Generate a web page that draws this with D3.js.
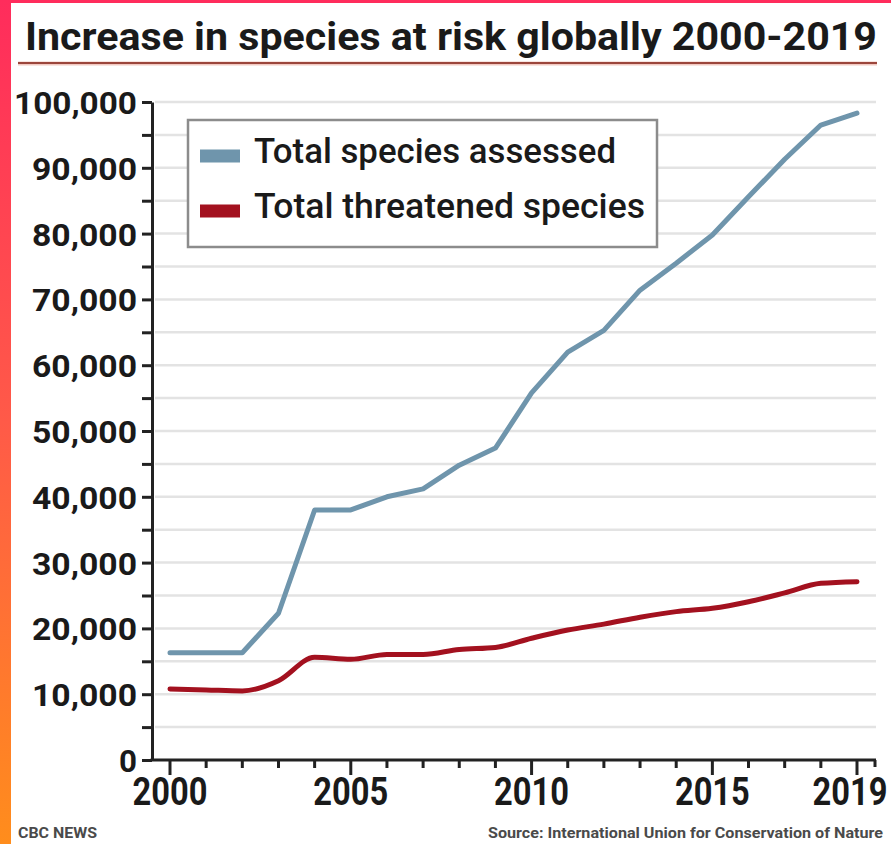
<!DOCTYPE html>
<html>
<head>
<meta charset="utf-8">
<script src="https://cdn.jsdelivr.net/npm/d3@7"></script>
<style>
  html, body { margin: 0; padding: 0; background: #fff; }
  svg { display: block; }
</style>
</head>
<body>
<svg id="chart" width="891" height="844"></svg>
<script>
// Years shown on the x axis
const years = d3.range(2000, 2020);

// IUCN Red List totals per year
const assessed = [16300, 16300, 16300, 22300, 38000, 38000, 40000, 41200, 44800, 47400,
                  55800, 62000, 65300, 71400, 75500, 79800, 85600, 91300, 96500, 98300];
const threatened = [10800, 10650, 10500, 12050, 15600, 15300, 16050, 16050, 16800, 17100,
                    18500, 19750, 20650, 21700, 22550, 23050, 24050, 25400, 26850, 27100];

const seriesNames = ["Total species assessed", "Total threatened species"];
const seriesColors = ["#6f95ac", "#a3111f"];

const xTickLabels = [2000, 2005, 2010, 2015, 2019];
const yTickLabels = d3.range(0, 100001, 10000);
const yMinorTicks = d3.range(0, 100001, 5000);

const titleText = "Increase in species at risk globally 2000-2019";
const creditText = "CBC NEWS";
const sourceText = "Source: International Union for Conservation of Nature";

const svg = d3.select("#chart");
const font = "Roboto, 'DejaVu Sans', sans-serif";

// Frame: gradient strip down the left edge and a thin strip along the top
const defs = svg.append("defs");
const grad = defs.append("linearGradient")
  .attr("id", "edge").attr("x1", 0).attr("y1", 0).attr("x2", 0).attr("y2", 1);
grad.append("stop").attr("offset", "0%").attr("stop-color", "#ff2c5c");
grad.append("stop").attr("offset", "50%").attr("stop-color", "#ff5a48");
grad.append("stop").attr("offset", "100%").attr("stop-color", "#ff8d1c");
svg.append("rect").attr("x", 0).attr("y", 0).attr("width", 891).attr("height", 3).attr("fill", "#ff2c5c");
svg.append("rect").attr("x", 0).attr("y", 0).attr("width", 11).attr("height", 844).attr("fill", "url(#edge)");

// Title with its rule underneath
svg.append("text")
  .attr("x", 25).attr("y", 50)
  .attr("font-family", font).attr("font-weight", 700).attr("font-size", 39)
  .attr("fill", "#1a1a1a")
  .attr("textLength", 852).attr("lengthAdjust", "spacingAndGlyphs")
  .text(titleText);
svg.append("line")
  .attr("x1", 18).attr("x2", 877).attr("y1", 63.5).attr("y2", 63.5)
  .attr("stroke", "#f2c9c2").attr("stroke-width", 4);
svg.append("line")
  .attr("x1", 18).attr("x2", 877).attr("y1", 63).attr("y2", 63)
  .attr("stroke", "#9c463c").attr("stroke-width", 2);

// Scales
const x = d3.scaleLinear().domain([2000, 2019]).range([170, 857]);
const y = d3.scaleLinear().domain([0, 100000]).range([760, 102]);

// Horizontal gridlines every 5,000
svg.append("g").selectAll("line")
  .data(yMinorTicks.filter(d => d > 0))
  .join("line")
  .attr("x1", 155).attr("x2", 876)
  .attr("y1", d => y(d)).attr("y2", d => y(d))
  .attr("stroke", "#e3e3e3").attr("stroke-width", 2.5);

// Y axis
const yAxis = d3.axisLeft(y)
  .tickValues(yMinorTicks)
  .tickSize(10).tickSizeOuter(0)
  .tickFormat("");
const gy = svg.append("g").attr("transform", "translate(152,0)").call(yAxis);
gy.select(".domain").attr("stroke", "#222").attr("stroke-width", 3);
gy.selectAll(".tick line").attr("stroke", "#222").attr("stroke-width", 3);

svg.append("g").selectAll("text")
  .data(yTickLabels)
  .join("text")
  .attr("x", 137).attr("y", d => y(d) + 12)
  .attr("text-anchor", "end")
  .attr("font-family", font).attr("font-weight", 700).attr("font-size", 32)
  .attr("fill", "#1a1a1a")
  .attr("textLength", d => {
    const s = d3.format(",")(d);
    const digits = s.replace(/,/g, "").length;
    return digits * 18 + (s.includes(",") ? 15 : 0);
  })
  .attr("lengthAdjust", "spacingAndGlyphs")
  .text(d => d3.format(",")(d));

// X axis
svg.append("line")
  .attr("x1", 150.5).attr("x2", 876).attr("y1", 760).attr("y2", 760)
  .attr("stroke", "#222").attr("stroke-width", 3);
svg.append("g").selectAll("line")
  .data(years)
  .join("line")
  .attr("x1", d => x(d)).attr("x2", d => x(d))
  .attr("y1", 760).attr("y2", d => xTickLabels.includes(d) ? 775 : 768)
  .attr("stroke", "#222").attr("stroke-width", 3);
svg.append("line")
  .attr("x1", 875).attr("x2", 875).attr("y1", 760).attr("y2", 767)
  .attr("stroke", "#222").attr("stroke-width", 3);

// Year labels, narrowed horizontally; the last one is nudged inward
svg.append("g").selectAll("text")
  .data(xTickLabels)
  .join("text")
  .attr("transform", d => `translate(${d === 2019 ? x(d) - 7 : x(d)},805) scale(0.86,1)`)
  .attr("text-anchor", "middle")
  .attr("font-family", font).attr("font-weight", 700).attr("font-size", 38)
  .attr("fill", "#1a1a1a")
  .text(d => d);

// Lines
const lineGen = d3.line()
  .x((d, i) => x(years[i]))
  .y(d => y(d));

svg.append("path")
  .datum(assessed)
  .attr("d", lineGen.curve(d3.curveLinear))
  .attr("fill", "none").attr("stroke", seriesColors[0])
  .attr("stroke-width", 5).attr("stroke-linejoin", "round").attr("stroke-linecap", "round");

svg.append("path")
  .datum(threatened)
  .attr("d", lineGen.curve(d3.curveMonotoneX))
  .attr("fill", "none").attr("stroke", seriesColors[1])
  .attr("stroke-width", 5).attr("stroke-linejoin", "round").attr("stroke-linecap", "round");

// Legend
const legend = svg.append("g");
legend.append("rect")
  .attr("x", 188).attr("y", 120).attr("width", 469).attr("height", 127)
  .attr("fill", "#fff").attr("stroke", "#8c8c8c").attr("stroke-width", 2.5);
const legendLengths = [362, 391];
seriesNames.forEach((name, i) => {
  const cy = 156 + i * 55;
  legend.append("rect")
    .attr("x", 200).attr("y", cy - 6.5).attr("width", 40).attr("height", 13)
    .attr("fill", seriesColors[i]);
  legend.append("text")
    .attr("x", 254).attr("y", 163 + i * 55)
    .attr("font-family", font).attr("font-weight", 500).attr("font-size", 35)
    .attr("fill", "#1a1a1a")
    .attr("textLength", legendLengths[i]).attr("lengthAdjust", "spacingAndGlyphs")
    .text(name);
});

// Credit and source lines
svg.append("text")
  .attr("x", 18).attr("y", 838)
  .attr("font-family", font).attr("font-weight", 700).attr("font-size", 14)
  .attr("fill", "#4a4a4a")
  .attr("textLength", 79).attr("lengthAdjust", "spacingAndGlyphs")
  .text(creditText);
svg.append("text")
  .attr("x", 883).attr("y", 838)
  .attr("text-anchor", "end")
  .attr("font-family", font).attr("font-weight", 700).attr("font-size", 14)
  .attr("fill", "#4a4a4a")
  .attr("textLength", 395).attr("lengthAdjust", "spacingAndGlyphs")
  .text(sourceText);
</script>
</body>
</html>
